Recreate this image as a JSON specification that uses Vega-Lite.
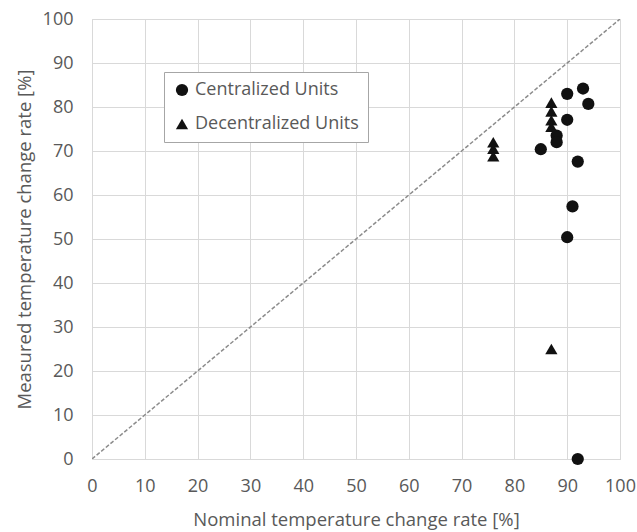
{
  "$schema": "https://vega.github.io/schema/vega-lite/v6.json",
  "width": 528,
  "height": 440,
  "autosize": "none",
  "padding": {"left": 92, "top": 19, "right": 17, "bottom": 73},
  "background": "white",
  "config": {
    "font": "Open Sans",
    "view": {"stroke": "#d9d9d9", "strokeWidth": 1},
    "axis": {
      "gridColor": "#d9d9d9",
      "domainColor": "#d9d9d9",
      "ticks": false,
      "labelFlush": false,
      "labelColor": "#595959",
      "titleColor": "#595959",
      "labelFontSize": 18,
      "titleFontSize": 18.5,
      "titleFontWeight": "normal",
      "labelFont": "Open Sans",
      "titleFont": "Open Sans"
    }
  },
  "datasets": {
    "pts": [
      {"nominal": 93, "measured": 84.2, "type": "Centralized Units"},
      {"nominal": 90, "measured": 83, "type": "Centralized Units"},
      {"nominal": 94, "measured": 80.7, "type": "Centralized Units"},
      {"nominal": 90, "measured": 77.1, "type": "Centralized Units"},
      {"nominal": 88, "measured": 73.5, "type": "Centralized Units"},
      {"nominal": 88, "measured": 72, "type": "Centralized Units"},
      {"nominal": 85, "measured": 70.4, "type": "Centralized Units"},
      {"nominal": 92, "measured": 67.6, "type": "Centralized Units"},
      {"nominal": 91, "measured": 57.4, "type": "Centralized Units"},
      {"nominal": 90, "measured": 50.4, "type": "Centralized Units"},
      {"nominal": 92, "measured": 0, "type": "Centralized Units"},
      {"nominal": 87, "measured": 81, "type": "Decentralized Units"},
      {"nominal": 87, "measured": 79, "type": "Decentralized Units"},
      {"nominal": 87, "measured": 77, "type": "Decentralized Units"},
      {"nominal": 87, "measured": 75.5, "type": "Decentralized Units"},
      {"nominal": 87, "measured": 25, "type": "Decentralized Units"},
      {"nominal": 76, "measured": 72, "type": "Decentralized Units"},
      {"nominal": 76, "measured": 70.5, "type": "Decentralized Units"},
      {"nominal": 76, "measured": 68.8, "type": "Decentralized Units"}
    ],
    "diag": [
      {"nominal": 0, "measured": 0},
      {"nominal": 100, "measured": 100}
    ]
  },
  "layer": [
    {
      "data": {"name": "diag"},
      "mark": {"type": "line", "color": "#8c8c8c", "strokeWidth": 1.5, "strokeDash": [4, 2], "clip": true},
      "encoding": {
        "x": {"field": "nominal", "type": "quantitative"},
        "y": {"field": "measured", "type": "quantitative"}
      }
    },
    {
      "data": {"name": "pts"},
      "mark": {"type": "point", "filled": true, "opacity": 1, "color": "#111111"},
      "encoding": {
        "x": {
          "field": "nominal",
          "type": "quantitative",
          "scale": {"domain": [0, 100], "nice": false},
          "axis": {
            "values": [0, 10, 20, 30, 40, 50, 60, 70, 80, 90, 100],
            "labelPadding": 18,
            "title": "Nominal temperature change rate [%]",
            "titleY": 60,
            "titleBaseline": "middle"
          }
        },
        "y": {
          "field": "measured",
          "type": "quantitative",
          "scale": {"domain": [0, 100], "nice": false},
          "axis": {
            "values": [0, 10, 20, 30, 40, 50, 60, 70, 80, 90, 100],
            "labelPadding": 19,
            "title": "Measured temperature change rate [%]",
            "titleX": -68,
            "titleY": 220,
            "titleAngle": -90,
            "titleAlign": "center",
            "titleBaseline": "middle"
          }
        },
        "shape": {
          "field": "type",
          "type": "nominal",
          "scale": {"domain": ["Centralized Units", "Decentralized Units"], "range": ["circle", "triangle-up"]},
          "legend": {
            "title": null,
            "orient": "none",
            "legendX": 72,
            "legendY": 53,
            "labelFontSize": 18,
            "labelLimit": 400,
            "labelColor": "#595959",
            "labelFont": "Open Sans",
            "symbolFillColor": "#111111",
            "symbolStrokeColor": "#111111",
            "symbolSize": 150,
            "symbolOpacity": 1,
            "rowPadding": 15,
            "labelOffset": 4,
            "padding": 9,
            "strokeColor": "#a6a6a6",
            "fillColor": "white"
          }
        },
        "size": {"value": 150}
      }
    }
  ]
}
